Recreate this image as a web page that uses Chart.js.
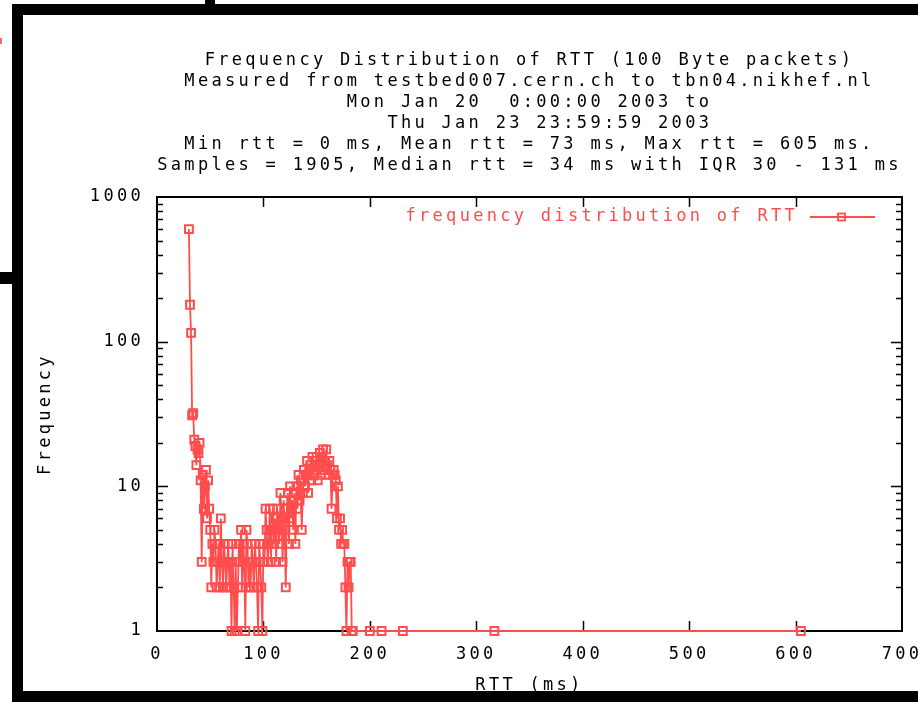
<!DOCTYPE html>
<html>
<head>
<meta charset="utf-8">
<script src="https://cdn.jsdelivr.net/npm/chart.js@4.4.1/dist/chart.umd.min.js"></script>
<style>
html,body{margin:0;padding:0;background:#fff;}
#wrap{position:relative;width:918px;height:702px;overflow:hidden;background:#fff;}
#c{position:absolute;left:0;top:0;}
.bar{position:absolute;background:#000;}
</style>
</head>
<body>
<div id="wrap">
<canvas id="c" width="918" height="702"></canvas>
<div class="bar" style="left:12px;top:4px;width:906px;height:11px"></div>
<div class="bar" style="left:12px;top:4px;width:11px;height:698px"></div>
<div class="bar" style="left:12px;top:691px;width:906px;height:11px"></div>
<div class="bar" style="left:205px;top:0;width:10px;height:4px"></div>
<div class="bar" style="left:0;top:272px;width:12px;height:12px"></div>
<div class="bar" style="left:0;top:38px;width:2px;height:6px;background:#f66"></div>
</div>
<script>
// ---- data ----
const titleLines = [
  "Frequency Distribution of RTT (100 Byte packets)",
  "Measured from testbed007.cern.ch to tbn04.nikhef.nl",
  "Mon Jan 20  0:00:00 2003 to",
  "   Thu Jan 23 23:59:59 2003",
  "Min rtt = 0 ms, Mean rtt = 73 ms, Max rtt = 605 ms.",
  "Samples = 1905, Median rtt = 34 ms with IQR 30 - 131 ms"
];
const seriesLabel = "frequency distribution of RTT";
const xTitle = "RTT (ms)";
const yTitle = "Frequency";
const xTickValues = [0, 100, 200, 300, 400, 500, 600, 700];
const yTickValues = [1, 10, 100, 1000];
const yTickLabels = ["1", "10", "100", "1000"];

const rttMs = [
  30,31,32,33,34,35,36,37,38,39,
  40,41,42,43,44,45,46,47,48,49,
  50,51,52,53,54,55,56,57,58,59,
  60,61,62,63,64,65,66,67,68,69,
  70,71,72,73,74,75,76,77,78,79,
  80,81,82,83,84,85,86,87,88,89,
  90,91,92,93,94,95,96,97,98,99,
  100,101,102,103,104,105,106,107,108,109,
  110,111,112,113,114,115,116,117,118,119,
  120,121,122,123,124,125,126,127,128,129,
  130,131,132,133,134,135,136,137,138,139,
  140,141,142,143,144,145,146,147,148,149,
  150,151,152,153,154,155,156,157,158,159,
  160,161,162,163,164,165,166,167,168,169,
  170,171,172,173,174,175,176,177,178,179,
  180,181,182,183,184,
  200,211,231,317,605
];
const frequency = [
  600,180,115,31,32,21,19,14,18,17,
  20,11,3,12,7,10,13,6,11,7,
  5,2,4,3,5,4,2,3,4,2,
  6,3,2,4,3,2,3,4,2,3,
  1,4,2,1,3,1,2,4,3,5,
  2,4,3,1,5,4,2,3,2,4,
  3,2,4,3,2,1,4,3,2,1,
  4,3,7,5,3,4,7,3,5,7,
  4,6,3,7,5,4,9,6,3,8,
  5,2,7,9,4,10,6,8,5,9,
  4,10,7,12,8,11,5,9,13,10,
  12,15,9,13,14,11,16,12,15,13,
  16,11,14,17,12,16,18,13,15,18,
  14,12,15,13,7,12,13,12,11,6,
  10,5,6,4,5,4,4,2,1,3,
  2,3,3,1,1,
  1,1,1,1,1
];

// ---- styles ----
const RED = '#ff4d4d';
const LS = '3.3px';
const FSIZE = 17;
const FONT = '"DejaVu Sans Mono", "Liberation Mono", monospace';
Chart.defaults.font.family = FONT;
Chart.defaults.font.size = FSIZE;
Chart.defaults.color = '#000';

const points = rttMs.map((x, i) => ({x: x, y: frequency[i]}));

const framePlugin = {
  id: 'gnuframe',
  beforeLayout(chart) { chart.ctx.letterSpacing = LS; },
  beforeDraw(chart) { chart.ctx.letterSpacing = LS; },
  beforeDatasetsDraw(chart) {
    const {ctx, chartArea: a, scales: {x, y}} = chart;
    ctx.save();
    ctx.strokeStyle = '#000';
    ctx.lineWidth = 1.5;
    ctx.beginPath();
    xTickValues.forEach(v => {
      const px = Math.round(x.getPixelForValue(v)) + 0.5;
      if (v > x.min && v < x.max) {
        ctx.moveTo(px, a.bottom); ctx.lineTo(px, a.bottom - 10);
        ctx.moveTo(px, a.top); ctx.lineTo(px, a.top + 10);
      }
    });
    [1, 10, 100].forEach(d => {
      for (let m = 1; m <= 9; m++) {
        const v = d * m;
        if (v <= 1 || v >= 1000) continue;
        const len = (m === 1) ? 11 : 6;
        const py = Math.round(y.getPixelForValue(v)) + 0.5;
        ctx.moveTo(a.left, py); ctx.lineTo(a.left + len, py);
        ctx.moveTo(a.right, py); ctx.lineTo(a.right - len, py);
      }
    });
    ctx.stroke();
    ctx.lineWidth = 2;
    ctx.strokeRect(a.left, a.top, a.right - a.left, a.bottom - a.top);
    ctx.restore();
  },
  afterDatasetsDraw(chart) {
    const {ctx, chartArea: a} = chart;
    const ds = chart.data.datasets[0];
    ctx.save();
    ctx.letterSpacing = LS;
    ctx.font = FSIZE + 'px ' + FONT;
    ctx.fillStyle = RED;
    ctx.textAlign = 'right';
    ctx.textBaseline = 'middle';
    const ly = a.top + 20;
    ctx.fillText(ds.label, a.right - 104, ly);
    ctx.strokeStyle = RED;
    ctx.lineWidth = 1.8;
    ctx.beginPath();
    ctx.moveTo(a.right - 92, ly); ctx.lineTo(a.right - 27, ly);
    ctx.stroke();
    ctx.strokeRect(a.right - 64, ly - 3.5, 7, 7);
    ctx.restore();
  }
};

new Chart(document.getElementById('c'), {
  type: 'line',
  data: {
    datasets: [{
      label: seriesLabel,
      data: points,
      borderColor: RED,
      borderWidth: 1.8,
      pointStyle: 'rect',
      pointRadius: 5.5,
      pointBorderWidth: 2,
      pointBorderColor: RED,
      pointBackgroundColor: 'rgba(0,0,0,0)',
      tension: 0,
      clip: false,
      spanGaps: true
    }]
  },
  options: {
    responsive: false,
    animation: false,
    events: [],
    layout: {padding: {left: 25, right: 16, top: 0, bottom: 0}},
    plugins: {
      legend: {display: false},
      tooltip: {enabled: false},
      title: {
        display: true,
        fullSize: false,
        text: titleLines,
        color: '#000',
        font: {family: FONT, size: FSIZE, weight: 'normal', lineHeight: 21 / FSIZE},
        padding: {top: 50, bottom: 21}
      }
    },
    scales: {
      x: {
        type: 'linear',
        min: 0, max: 700,
        grid: {display: false, drawTicks: false},
        border: {display: false},
        ticks: {stepSize: 100, padding: 13, color: '#000', maxRotation: 0, autoSkip: false,
                font: {family: FONT, size: FSIZE}},
        afterBuildTicks: s => { s.ticks = xTickValues.map(v => ({value: v})); },
        afterFit: s => { s.height = 71; s.paddingLeft = 0; s.paddingRight = 0; },
        title: {display: true, text: xTitle, color: '#000', font: {family: FONT, size: FSIZE},
                padding: {top: 0, bottom: 6}}
      },
      y: {
        type: 'logarithmic',
        min: 1, max: 1000,
        grid: {display: false, drawTicks: false},
        border: {display: false},
        ticks: {padding: 13, color: '#000', autoSkip: false,
                font: {family: FONT, size: FSIZE},
                callback: (v) => { const i = yTickValues.indexOf(v); return i >= 0 ? yTickLabels[i] : ''; }},
        afterBuildTicks: s => { s.ticks = yTickValues.map(v => ({value: v})); },
        afterFit: s => { s.width = 132; },
        title: {display: true, text: yTitle, color: '#000', font: {family: FONT, size: FSIZE},
                padding: {top: 10, bottom: 0}}
      }
    }
  },
  plugins: [framePlugin]
});
</script>
</body>
</html>
